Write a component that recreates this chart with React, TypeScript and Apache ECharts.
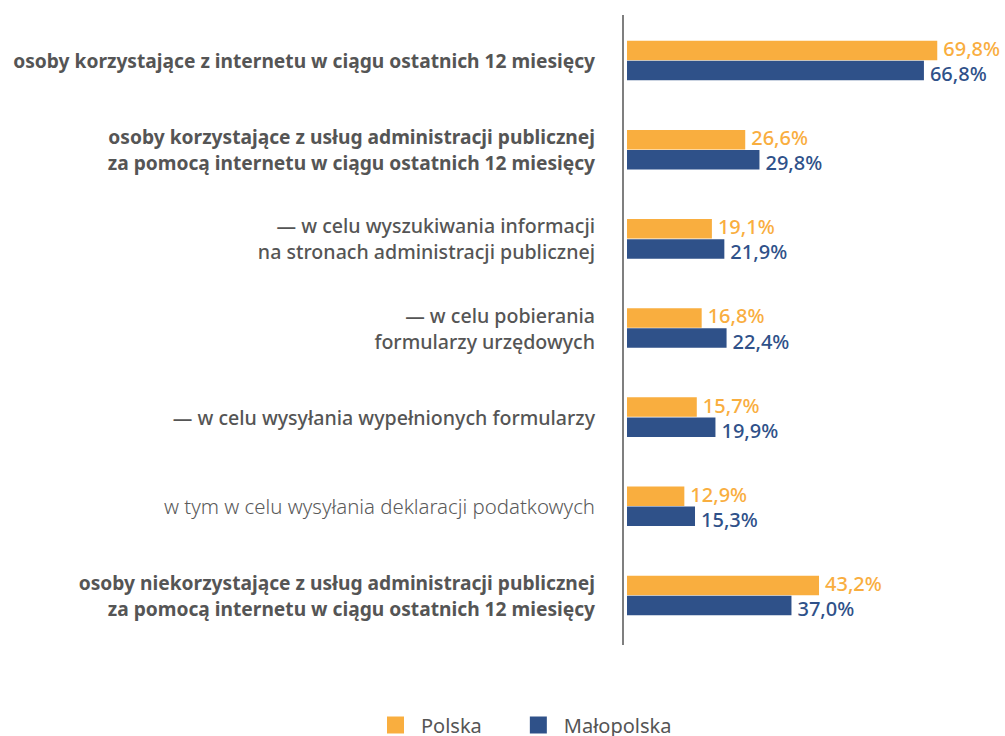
import React, { useEffect, useRef } from "react";
import * as echarts from "echarts";

const categories = [
  "osoby korzystające z internetu w ciągu ostatnich 12 miesięcy",
  "osoby korzystające z usług administracji publicznej\nza pomocą internetu w ciągu ostatnich 12 miesięcy",
  "— w celu wyszukiwania informacji\nna stronach administracji publicznej",
  "— w celu pobierania\nformularzy urzędowych",
  "— w celu wysyłania wypełnionych formularzy",
  "w tym w celu wysyłania deklaracji podatkowych",
  "osoby niekorzystające z usług administracji publicznej\nza pomocą internetu w ciągu ostatnich 12 miesięcy",
];
const labelStyles = ["b", "b", "m", "m", "m", "l", "b"];
const polska = [69.8, 26.6, 19.1, 16.8, 15.7, 12.9, 43.2];
const malopolska = [66.8, 29.8, 21.9, 22.4, 19.9, 15.3, 37.0];

const FONT = "'Noto Sans', sans-serif";
const ORANGE = "#F9AE3F";
const BLUE = "#2F5189";

export default function App() {
  const ref = useRef<HTMLDivElement>(null);
  useEffect(() => {
    const chart = echarts.init(ref.current!, null, { renderer: "svg" });
    const fmt = (v: number) => v.toFixed(1).replace(".", ",") + "%";
    const valueLabel = (color: string, dy: number) => ({
      show: true,
      position: "right",
      distance: 6,
      offset: [0, dy],
      formatter: (p: any) => fmt(p.value),
      color,
      fontFamily: FONT,
      fontSize: 20,
      fontWeight: 500,
      lineHeight: 20,
    });
    chart.setOption({
      animation: false,
      textStyle: { fontFamily: FONT },
      grid: { left: 627, right: 22.4, top: 16, bottom: 96 },
      xAxis: { type: "value", min: 0, max: 80, show: false },
      yAxis: {
        type: "category",
        inverse: true,
        data: categories,
        axisLine: { show: false },
        axisTick: { show: false },
        axisLabel: {
          margin: 32,
          align: "right",
          formatter: (v: string, i: number) => {
            const s = labelStyles[i];
            return v.split("\n").map((l) => `{${s}|${l}}`).join("\n");
          },
          rich: {
            b: { fontFamily: FONT, fontSize: 19.2, fontWeight: "bold", color: "#555555", lineHeight: 26, align: "right" },
            m: { fontFamily: FONT, fontSize: 19.6, fontWeight: 500, color: "#555555", lineHeight: 26, align: "right" },
            l: { fontFamily: FONT, fontSize: 20.4, fontWeight: 300, color: "#5a5a5a", lineHeight: 26, align: "right" },
          },
        },
      },
      legend: {
        left: 387,
        top: 715,
        padding: 0,
        itemWidth: 17,
        itemHeight: 17,
        itemGap: 48,
        icon: "rect",
        textStyle: { fontFamily: FONT, fontSize: 20, lineHeight: 17, color: "#555555", padding: [0, 0, 0, 12] },
        data: ["Polska", "Małopolska"],
      },
      graphic: [
        {
          type: "line",
          shape: { x1: 623, y1: 15, x2: 623, y2: 645 },
          style: { stroke: "#555555", lineWidth: 1.5 },
        },
      ],
      series: [
        {
          name: "Polska",
          type: "bar",
          data: polska,
          barWidth: 19.5,
          barGap: "3%",
          itemStyle: { color: ORANGE },
          label: valueLabel(ORANGE, -2),
        },
        {
          name: "Małopolska",
          type: "bar",
          data: malopolska,
          barWidth: 19.5,
          barGap: "3%",
          itemStyle: { color: BLUE },
          label: valueLabel(BLUE, 3),
        },
      ],
    });
    return () => chart.dispose();
  }, []);
  return (
    <div
      ref={ref}
      style={{ position: "absolute", left: 0, top: 0, width: 1005, height: 736, background: "#fff" }}
    />
  );
}
